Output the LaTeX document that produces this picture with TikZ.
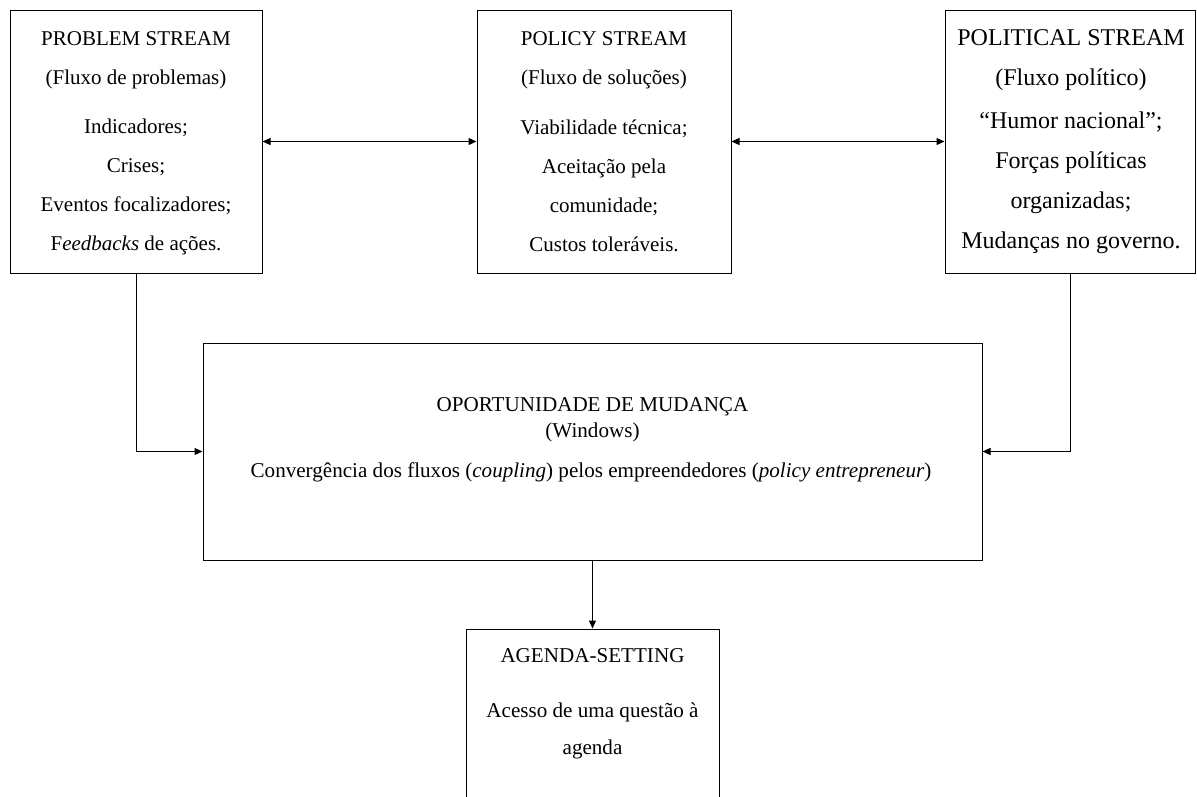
\documentclass[tikz,border=0pt]{standalone}
\usepackage{fontspec}
\setmainfont{Liberation Serif}
\usetikzlibrary{arrows.meta}
\begin{document}
\begin{tikzpicture}[x=1pt,y=-1pt,
  box/.style={draw=black,line width=1pt,rectangle,inner sep=0pt},
  lineA/.style={anchor=base,inner sep=0pt,font=\fontsize{21}{21}\selectfont},
  lineB/.style={anchor=base,inner sep=0pt,font=\fontsize{24}{24}\selectfont},
  lineC/.style={anchor=base,inner sep=0pt,font=\fontsize{21.1}{21.1}\selectfont},
  conn/.style={line width=1pt,draw=black},
  tip/.style={-{Triangle[length=8pt,width=7pt]}},
  tips/.style={{Triangle[length=8pt,width=7pt]}-{Triangle[length=8pt,width=7pt]}}]
\useasboundingbox (0,0) rectangle (1197,796);
% boxes
\node[box,minimum width=252pt,minimum height=263pt] (b1) at (136,141.5) {};
\node[box,minimum width=254pt,minimum height=263pt] (b2) at (604,141.5) {};
\node[box,minimum width=250pt,minimum height=263pt] (b3) at (1070,141.5) {};
\node[box,minimum width=779pt,minimum height=217pt] (mid) at (592.5,451.5) {};
\node[box,minimum width=253pt,minimum height=201pt] (ag) at (592.5,729.5) {};
% box 1 text
\node[lineA] (t11) at (136,45) {PROBLEM STREAM};
\node[lineA] (t12) at (136,84) {(Fluxo de problemas)};
\node[lineA] (t13) at (136,133) {Indicadores;};
\node[lineA] (t14) at (136,172) {Crises;};
\node[lineA] (t15) at (136,211) {Eventos focalizadores;};
\node[lineA] (t16) at (136,250) {F\textit{eedbacks} de ações.};
% box 2 text
\node[lineA] (t21) at (604,45) {POLICY STREAM};
\node[lineA] (t22) at (604,84) {(Fluxo de soluções)};
\node[lineA] (t23) at (604,134) {Viabilidade técnica;};
\node[lineA] (t24) at (604,173) {Aceitação pela};
\node[lineA] (t25) at (604,212) {comunidade;};
\node[lineA] (t26) at (604,251) {Custos toleráveis.};
% box 3 text
\node[lineB] (t31) at (1071,45) {POLITICAL STREAM};
\node[lineB] (t32) at (1071,85) {(Fluxo político)};
\node[lineB] (t33) at (1071,128) {“Humor nacional”;};
\node[lineB] (t34) at (1071,168) {Forças políticas};
\node[lineB] (t35) at (1071,208) {organizadas;};
\node[lineB] (t36) at (1071,248) {Mudanças no governo.};
% middle text
\node[lineC] (m1) at (592.5,411) {OPORTUNIDADE DE MUDANÇA};
\node[lineC] (m2) at (592.5,437) {(Windows)};
\node[lineC] (m3) at (591,477) {Convergência dos fluxos (\textit{coupling}) pelos empreendedores (\textit{policy entrepreneur})};
% agenda text
\node[lineC] (a1) at (592.5,662) {AGENDA-SETTING};
\node[lineC] (a2) at (592.5,717) {Acesso de uma questão à};
\node[lineC] (a3) at (592.5,754) {agenda};
% connectors
\draw[conn,tips] (b1.east) -- (b2.west);
\draw[conn,tips] (b2.east) -- (b3.west);
\draw[conn,tip] (b1.south) |- (mid.west);
\draw[conn,tip] (b3.south) |- (mid.east);
\draw[conn,tip] (mid.south) -- (ag.north);
\end{tikzpicture}
\end{document}
